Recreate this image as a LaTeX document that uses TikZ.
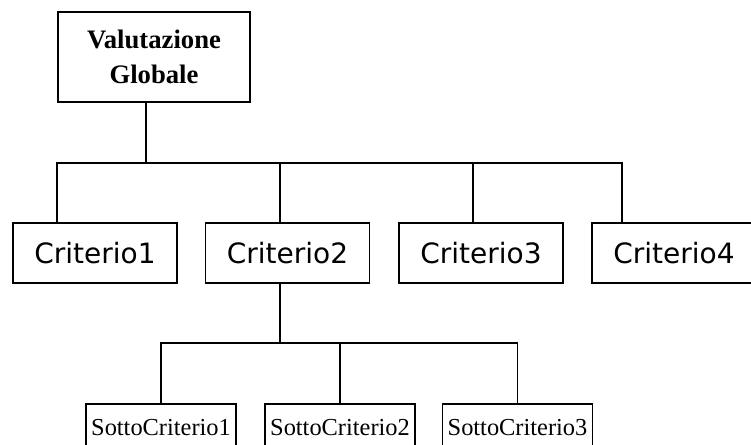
\documentclass[tikz,border=0pt]{standalone}
\usepackage{fontspec}
\setmainfont{Liberation Serif}
\newfontfamily\critfont{DejaVu Sans}
\usetikzlibrary{calc}

\begin{document}
\begin{tikzpicture}[x = 0.75pt, y = -0.75pt, line width = 1.1pt]
			\useasboundingbox (0, 0) rectangle (751, 445);
			\clip (0, 0) rectangle (751, 445);
			
			\begin{scope}[every node/.style={rectangle, draw, inner sep = 0pt, minimum width = 144pt, minimum height = 67.5pt, align = center, font = \fontsize{20}{26}\selectfont\bfseries}]
			\node (vg) at (154, 57) {Valutazione\\Globale};
			\end{scope}
			
			\begin{scope}[every node/.style={rectangle, draw, inner sep = 0pt, minimum width = 123pt, minimum height = 45pt, font = \critfont\fontsize{21}{25}\selectfont}]
			\node (c1) at (95, 253) {Criterio1};
			\node (c2) at (287.5, 253) {Criterio2};
			\node (c3) at (481, 253) {Criterio3};
			\node (c4) at (674, 253) {Criterio4};
			\end{scope}
			
			\begin{scope}[every node/.style={rectangle, draw, inner sep = 0pt, minimum width = 112.5pt, minimum height = 36pt, font = \fontsize{18.3}{22}\selectfont}]
			\node (s1) at (161, 428) {SottoCriterio1};
			\node (s2) at (340, 428) {SottoCriterio2};
			\node (s3) at (517.5, 428) {SottoCriterio3};
			\end{scope}
			
			\coordinate (d0) at (146, 163);
			\coordinate (d1) at (57, 163);
			\coordinate (d2) at (280, 163);
			\coordinate (d3) at (473, 163);
			\coordinate (d4) at (622, 163);
			\coordinate (e0) at (280, 343);
			
			\draw (vg.south -| d0) -- (d0);
			\draw (d1 |- c1.north) -- (d1) -- (d4) -- (d4 |- c4.north);
			\draw (d2) -- (d2 |- c2.north);
			\draw (d3) -- (d3 |- c3.north);
			
			\draw (c2.south -| e0) -- (e0);
			\draw (s1.north) -- (s1.north |- e0) -- (s3.north |- e0) -- (s3.north);
			\draw (s2.north) -- (s2.north |- e0);
			
			\end{tikzpicture}
\end{document}
